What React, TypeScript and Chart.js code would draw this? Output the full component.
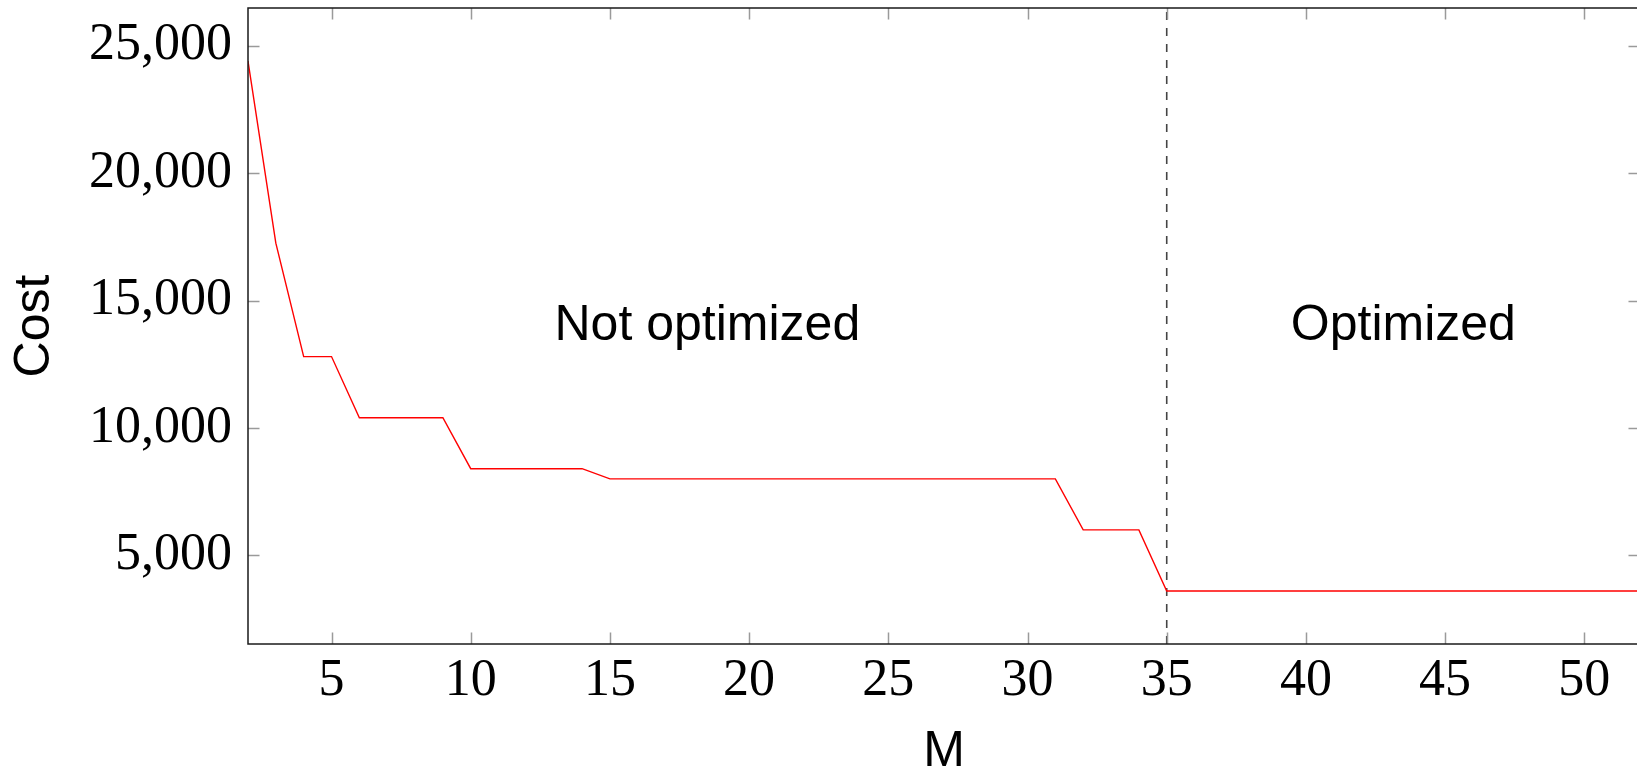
import React, { useEffect, useRef } from "react";
import { Chart, registerables } from "chart.js";

Chart.register(...registerables);

// ---- Data ----
const mValues = [
  2, 3, 4, 5, 6, 7, 8, 9, 10, 11, 12, 13, 14, 15, 16, 17, 18, 19, 20, 21, 22,
  23, 24, 25, 26, 27, 28, 29, 30, 31, 32, 33, 34, 35, 36, 37, 38, 39, 40, 41,
  42, 43, 44, 45, 46, 47, 48, 49, 50, 51, 52,
];
const costValues = [
  24400, 17250, 12800, 12800, 10400, 10400, 10400, 10400, 8400, 8400, 8400,
  8400, 8400, 8000, 8000, 8000, 8000, 8000, 8000, 8000, 8000, 8000, 8000, 8000,
  8000, 8000, 8000, 8000, 8000, 8000, 6000, 6000, 6000, 3600, 3600, 3600, 3600,
  3600, 3600, 3600, 3600, 3600, 3600, 3600, 3600, 3600, 3600, 3600, 3600, 3600,
  3600,
];
const xTickValues = [5, 10, 15, 20, 25, 30, 35, 40, 45, 50];
const yTickValues = [5000, 10000, 15000, 20000, 25000];
const xRange = [2, 52];
const yRange = [1520, 26480];
const thresholdM = 35;
const regionLabels = ["Not optimized", "Optimized"];
const regionLabelX = [18.5, 43.5];
const regionLabelY = [14000, 14000];

const SERIF = "'Liberation Serif', 'DejaVu Serif', serif";
const SANS = "'Liberation Sans', 'DejaVu Sans', sans-serif";

const framePlugin = {
  id: "framePlugin",
  afterDraw(chart: any) {
    const { ctx, chartArea } = chart;
    const xs = chart.scales.x;
    const ys = chart.scales.y;
    const { left, right, top, bottom } = chartArea;
    ctx.save();
    // inward tick marks
    ctx.strokeStyle = "#9a9a9a";
    ctx.lineWidth = 1.5;
    const tl = 11.5;
    ctx.beginPath();
    xTickValues.forEach((v) => {
      const px = Math.round(xs.getPixelForValue(v)) + 0.5;
      ctx.moveTo(px, bottom);
      ctx.lineTo(px, bottom - tl);
      ctx.moveTo(px, top);
      ctx.lineTo(px, top + tl);
    });
    yTickValues.forEach((v) => {
      const py = Math.round(ys.getPixelForValue(v)) + 0.5;
      ctx.moveTo(left, py);
      ctx.lineTo(left + tl, py);
      ctx.moveTo(right, py);
      ctx.lineTo(right - tl, py);
    });
    ctx.stroke();
    // frame
    ctx.strokeStyle = "#1a1a1a";
    ctx.lineWidth = 1.5;
    ctx.strokeRect(left, top, right - left, bottom - top);
    // region labels
    ctx.fillStyle = "#000";
    ctx.font = `50px ${SANS}`;
    ctx.textAlign = "center";
    ctx.textBaseline = "alphabetic";
    regionLabels.forEach((t, i) => {
      const px = xs.getPixelForValue(regionLabelX[i]);
      const py = ys.getPixelForValue(regionLabelY[i]);
      ctx.fillText(t, px, py + 14);
    });
    ctx.restore();
  },
};

export default function App() {
  const canvasRef = useRef<HTMLCanvasElement | null>(null);

  useEffect(() => {
    if (!canvasRef.current) return;
    const lineData = mValues.map((m, i) => ({ x: m, y: costValues[i] }));
    const dashData = [
      { x: thresholdM, y: yRange[0] },
      { x: thresholdM, y: yRange[1] },
    ];
    const chart = new Chart(canvasRef.current, {
      type: "line",
      data: {
        datasets: [
          {
            data: lineData,
            borderColor: "#ff0000",
            borderWidth: 1.4,
            pointRadius: 0,
            tension: 0,
            fill: false,
          },
          {
            data: dashData,
            borderColor: "#444444",
            borderWidth: 1.6,
            borderDash: [8, 8],
            pointRadius: 0,
            fill: false,
          },
        ],
      },
      options: {
        animation: false,
        responsive: true,
        maintainAspectRatio: false,
        layout: { padding: { top: 8, right: 1, left: 0, bottom: 0 } },
        plugins: {
          legend: { display: false },
          tooltip: { enabled: false },
        },
        scales: {
          x: {
            type: "linear",
            min: xRange[0],
            max: xRange[1],
            grid: { display: false, drawTicks: false },
            border: { display: false },
            afterBuildTicks: (scale: any) => {
              scale.ticks = xTickValues.map((v) => ({ value: v }));
            },
            afterFit: (scale: any) => {
              scale.height = 130;
              scale.paddingLeft = 0;
              scale.paddingRight = 0;
            },
            ticks: {
              padding: 6,
              maxRotation: 0,
              autoSkip: false,
              color: "#000",
              font: { family: SERIF, size: 52 },
              callback: (v: any) => String(v),
            },
            title: {
              display: true,
              text: "M",
              color: "#000",
              font: { family: SANS, size: 50, lineHeight: 0.8 },
              padding: { top: 0, bottom: 2 },
            },
          },
          y: {
            type: "linear",
            min: yRange[0],
            max: yRange[1],
            grid: { display: false, drawTicks: false },
            border: { display: false },
            afterBuildTicks: (scale: any) => {
              scale.ticks = yTickValues.map((v) => ({ value: v }));
            },
            afterFit: (scale: any) => {
              scale.width = 248;
              scale.paddingTop = 0;
              scale.paddingBottom = 0;
            },
            ticks: {
              padding: 16,
              autoSkip: false,
              color: "#000",
              font: { family: SERIF, size: 52 },
              callback: (v: any) => Number(v).toLocaleString("en-US"),
            },
            title: {
              display: true,
              text: "Cost",
              color: "#000",
              font: { family: SANS, size: 50 },
              padding: { top: 5, bottom: 0 },
            },
          },
        },
      },
      plugins: [framePlugin],
    });
    return () => chart.destroy();
  }, []);

  return (
    <div
      style={{
        position: "fixed",
        left: 0,
        top: 0,
        width: 1637,
        height: 774,
        overflow: "hidden",
        background: "#fff",
      }}
    >
      <div style={{ position: "relative", width: 1641, height: 774 }}>
        <canvas ref={canvasRef} />
      </div>
    </div>
  );
}
